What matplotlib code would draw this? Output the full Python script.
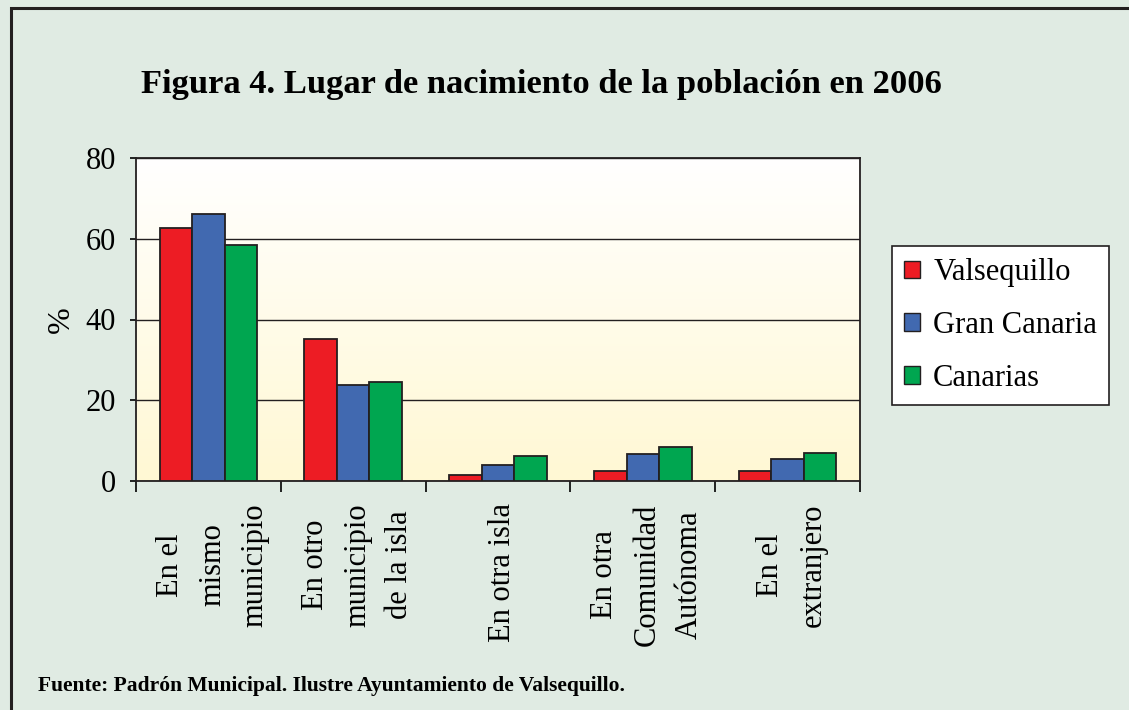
import numpy as np
import matplotlib
matplotlib.use('Agg')
from matplotlib import pyplot as plt
from matplotlib.patches import Rectangle

categorias = ['En el\nmismo\nmunicipio', 'En otro\nmunicipio\nde la isla', 'En otra isla',
              'En otra\nComunidad\nAutónoma', 'En el\nextranjero']
series = ['Valsequillo', 'Gran Canaria', 'Canarias']
valsequillo = [62.6, 35.2, 1.5, 2.6, 2.6]
gran_canaria = [66.2, 23.7, 4.0, 6.7, 5.5]
canarias = [58.5, 24.5, 6.2, 8.5, 6.9]
colores = ['#ED1C24', '#4169B0', '#00A650']

plt.rcParams['font.family'] = ['Liberation Serif', 'DejaVu Serif']

fig = plt.figure(figsize=(11.29, 7.10), dpi=100)
fig.patch.set_facecolor('#E0EBE3')
# marco exterior
fig.patches.append(Rectangle((11/1129, -0.05), 1.2, 1 - 8/710 + 0.05, transform=fig.transFigure,
                             fill=False, edgecolor='#231F20', linewidth=2.2))

ax = fig.add_axes([136/1129, 1 - 481/710, (860 - 136)/1129, (481 - 158)/710])
# fondo degradado blanco -> amarillo
grad = np.linspace(0, 1, 256).reshape(-1, 1)
c_top = np.array([1.0, 1.0, 1.0])
c_bot = np.array([1.0, 0.973, 0.83])
img = c_top + (c_bot - c_top) * grad[:, :, None]
ax.imshow(img, extent=[-0.5, 4.5, 0, 80], aspect='auto', origin='upper', zorder=0)

x = np.arange(len(categorias))
w = 0.225
for i, (vals, nom) in enumerate(zip([valsequillo, gran_canaria, canarias], series)):
    ax.bar(x + (i - 1) * w, vals, w, color=colores[i], edgecolor='#231F20', linewidth=1.3,
           label=nom, zorder=3)

ax.set_xlim(-0.5, 4.5)
ax.set_ylim(0, 80)
ax.set_yticks([0, 20, 40, 60, 80])
ax.tick_params(axis='y', labelsize=22, length=4.5, width=1.2, pad=10)
ax.yaxis.grid(True, color='#231F20', linewidth=1.0, zorder=1)
ax.set_axisbelow(True)
ax.set_xticks(np.arange(-0.5, 5, 1))
ax.set_xticklabels([])
ax.tick_params(axis='x', length=8, width=1.2)
for s in ax.spines.values():
    s.set_linewidth(1.3)
    s.set_color('#231F20')
for xi, lab in zip(x, categorias):
    ax.text(xi + 0.03, -5.5, lab, rotation=90, ha='center', va='top', multialignment='center',
            fontsize=22, linespacing=1.6)
ax.set_ylabel('%', fontsize=23, labelpad=7)

fig.text(541/1129, 1 - 85/710, 'Figura 4. Lugar de nacimiento de la población en 2006',
         ha='center', va='center', fontsize=24.8, fontweight='bold')
fig.text(38/1129, 1 - 686/710, 'Fuente: Padrón Municipal. Ilustre Ayuntamiento de Valsequillo.',
         ha='left', va='center', fontsize=15.5, fontweight='bold')

leg = ax.legend(loc='upper left', bbox_to_anchor=(892/1129, 1 - 246/710), bbox_transform=fig.transFigure,
                fontsize=22, frameon=True, fancybox=False, handlelength=0.5, handleheight=0.5,
                handletextpad=0.45, labelspacing=0.78, borderpad=0.4, borderaxespad=0)
leg.get_frame().set_edgecolor('#231F20')
leg.get_frame().set_linewidth(1.2)
leg.get_frame().set_facecolor('white')
leg.get_frame().set_alpha(1)
for h in leg.legend_handles:
    h.set_linewidth(1.0)

fig.savefig('out.png', dpi=100, facecolor=fig.get_facecolor())
